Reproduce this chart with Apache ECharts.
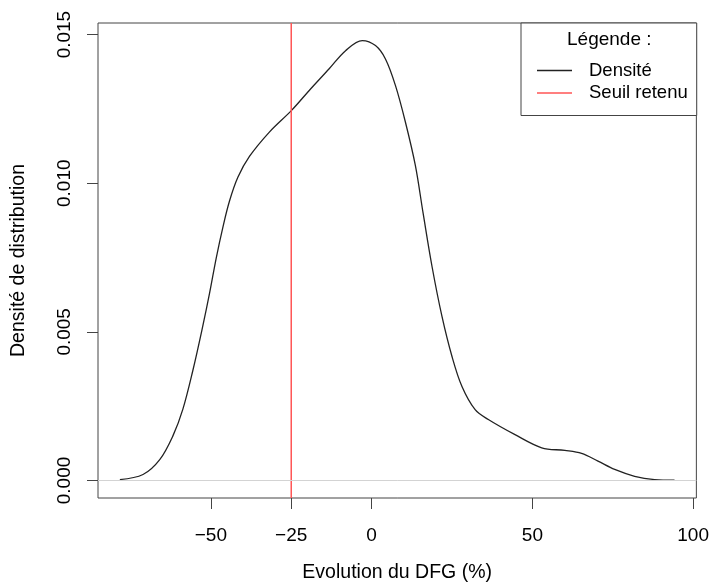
<!DOCTYPE html>
<html>
<head>
<meta charset="utf-8">
<script src="https://cdn.jsdelivr.net/npm/echarts@6/dist/echarts.min.js"></script>
<style>
  html, body { margin: 0; padding: 0; background: #fff; }
  #chart { width: 712px; height: 588px; }
</style>
</head>
<body>
<div id="chart"></div>
<script>
// density curve
const densityX = [-78.3, -71.1, -65.9, -61.8, -58.7, -55.6, -52.5, -50.4, -48.3, -46.3,
  -44.2, -41.6, -38.0, -31.8, -24.9, -19.4, -13.2, -8.1, -2.9, 1.2,
  4.3, 7.4, 10.5, 13.6, 16.0, 18.8, 21.9, 25.0, 28.1, 32.2,
  36.3, 44.6, 52.9, 60.1, 65.3, 70.4, 75.6, 81.8, 88.0, 94.2];
const densityY = [0.00003, 0.0002, 0.0007, 0.0015, 0.0024, 0.0037, 0.0052, 0.0063, 0.0075, 0.0085,
  0.0094, 0.0102, 0.0109, 0.01172, 0.01245, 0.01312, 0.01385, 0.01446, 0.0148, 0.01463,
  0.01418, 0.01329, 0.01206, 0.0106, 0.0090, 0.00719, 0.00551, 0.00417, 0.00316, 0.00238,
  0.00205, 0.00154, 0.0011, 0.00101, 0.00091, 0.00065, 0.00037, 0.00014, 0.00003, 0.00001];
const seuil = -25;
const xTicks = [-50, -25, 0, 50, 100];
const yTicks = [0, 0.005, 0.010, 0.015];
const seriesNames = ['Densité', 'Seuil retenu'];

const xMin = -85.1, xMax = 101.0;
const yMin = -0.00059, yMax = 0.01539;

const font = 'Liberation Sans, Arial, Helvetica, sans-serif';
const chart = echarts.init(document.getElementById('chart'));

chart.setOption({
  backgroundColor: '#fff',
  animation: false,
  textStyle: { fontFamily: font },
  grid: {
    left: 98, right: 13, top: 23, bottom: 90,
    show: true, borderColor: '#444', borderWidth: 1, backgroundColor: 'transparent'
  },
  graphic: [{
    type: 'text', left: 567, top: 30, z: 100,
    style: { text: 'Légende :', fontSize: 19, fontFamily: font, fill: '#000' }
  }],
  legend: {
    data: seriesNames,
    orient: 'vertical',
    left: 521, top: 23,
    padding: [38, 9, 13, 16],
    itemGap: 3.5,
    itemWidth: 35, itemHeight: 1.5,
    icon: 'rect',
    borderColor: '#444', borderWidth: 1,
    backgroundColor: '#fff',
    textStyle: { fontSize: 18.5, lineHeight: 18, color: '#000', fontFamily: font, padding: [0, 0, 0, 12] }
  },
  xAxis: {
    type: 'value', min: xMin, max: xMax,
    name: 'Evolution du DFG (%)', nameLocation: 'middle', nameGap: 65,
    nameTextStyle: { fontSize: 19.5, color: '#000' },
    axisLine: { show: false, onZero: false },
    splitLine: { show: false },
    axisTick: { show: true, inside: false, length: 11, lineStyle: { color: '#444' }, customValues: xTicks },
    axisLabel: { fontSize: 19, color: '#000', margin: 28, customValues: xTicks,
      formatter: v => (v < 0 ? '\u2212' + Math.abs(v) : String(v)) }
  },
  yAxis: {
    type: 'value', min: yMin, max: yMax,
    name: 'Densité de distribution', nameLocation: 'middle', nameGap: 69, nameRotate: 90,
    nameTextStyle: { fontSize: 19.5, color: '#000' },
    axisLine: { show: false, onZero: false },
    splitLine: { show: false },
    axisTick: { show: true, inside: false, length: 11, lineStyle: { color: '#444' }, customValues: yTicks },
    axisLabel: { fontSize: 19, color: '#000', margin: 24, rotate: 90, customValues: yTicks,
      formatter: v => v.toFixed(3) }
  },
  series: [
    {
      name: seriesNames[0], type: 'line', smooth: 0.35, symbol: 'none',
      data: densityX.map((x, i) => [x, densityY[i]]),
      lineStyle: { color: '#222', width: 1.3 },
      itemStyle: { color: '#222' },
      markLine: {
        silent: true, symbol: 'none', label: { show: false },
        lineStyle: { color: '#d3d3d3', width: 1, type: 'solid' },
        data: [{ yAxis: 0 }]
      }
    },
    {
      name: seriesNames[1], type: 'line', symbol: 'none',
      data: [[seuil, yMin], [seuil, yMax]],
      lineStyle: { color: '#f55', width: 1.5 },
      itemStyle: { color: '#f55' }
    }
  ]
});
</script>
</body>
</html>
